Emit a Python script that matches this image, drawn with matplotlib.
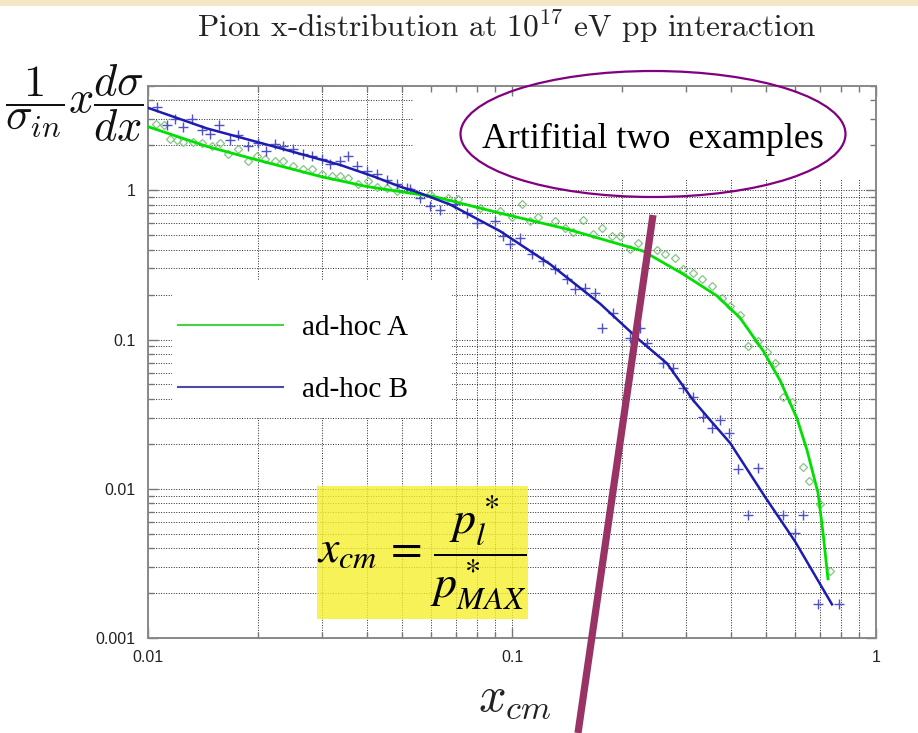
import matplotlib.pyplot as plt
from matplotlib.patches import Ellipse, Rectangle
from matplotlib.lines import Line2D

plt.rcParams['mathtext.fontset'] = 'cm'

# ad-hoc A: fitted curve and generated points
curve_a_x = [0.0100, 0.0145, 0.0199, 0.0297, 0.0399, 0.0558, 0.0607, 0.0927, 0.1416,
             0.2290, 0.2950, 0.3658, 0.4230, 0.4893, 0.5448, 0.6067, 0.6461, 0.6929,
             0.7151, 0.7380]
curve_a_y = [2.67, 1.97, 1.60, 1.24, 1.06, 0.936, 0.912, 0.703, 0.550,
             0.392, 0.275, 0.196, 0.140, 0.0843, 0.0534, 0.0296, 0.0182, 0.00939,
             0.00510, 0.00249]
pts_a_x = [0.0105, 0.0111, 0.0115, 0.0120, 0.0125, 0.0133, 0.0141, 0.0150, 0.0158, 0.0166,
           0.0177, 0.0188, 0.0199, 0.0210, 0.0223, 0.0235, 0.0250, 0.0267, 0.0282, 0.0301,
           0.0320, 0.0337, 0.0354, 0.0378, 0.0402, 0.0426, 0.0454, 0.0483,
           0.0595, 0.0667, 0.0710, 0.0817, 0.0927, 0.100, 0.1065, 0.1121, 0.1179, 0.1313,
           0.1398, 0.1471, 0.1567, 0.1669, 0.1767, 0.1883, 0.1981, 0.2110, 0.2220,
           0.250, 0.263, 0.280, 0.295, 0.314, 0.333, 0.354, 0.378, 0.397, 0.423,
           0.445, 0.474, 0.502, 0.528, 0.555, 0.588, 0.630, 0.654, 0.702, 0.747]
pts_a_y = [2.80, 2.75, 2.22, 2.19, 2.12, 2.12, 2.06, 1.97, 2.06, 1.74,
           1.88, 1.56, 1.69, 1.61, 1.56, 1.56, 1.45, 1.40, 1.38, 1.28,
           1.24, 1.24, 1.20, 1.11, 1.15, 1.06, 1.03, 0.985,
           0.94, 0.884, 0.871, 0.759, 0.724, 0.661, 0.807, 0.621, 0.661, 0.621,
           0.558, 0.525, 0.631, 0.509, 0.558, 0.494, 0.494, 0.404, 0.443,
           0.398, 0.374, 0.352, 0.297, 0.280, 0.255, 0.229, 0.191, 0.168, 0.145,
           0.0912, 0.0985, 0.0819, 0.0692, 0.0411, 0.0380, 0.0140, 0.0113, 0.00794, 0.00280]

# ad-hoc B: fitted curve and generated points
curve_b_x = [0.0100, 0.0145, 0.0221, 0.0337, 0.0416, 0.0492, 0.0558, 0.0676, 0.0927,
             0.1272, 0.1745, 0.2247, 0.2666, 0.3143, 0.3500, 0.3972, 0.4955, 0.5992,
             0.7570]
curve_b_y = [3.57, 2.60, 1.97, 1.48, 1.24, 1.06, 0.959, 0.803, 0.533,
             0.320, 0.174, 0.0985, 0.0692, 0.0393, 0.0289, 0.0203, 0.00883, 0.00444,
             0.00168]
pts_b_x = [0.0106, 0.0113, 0.0119, 0.0125, 0.0132, 0.0141, 0.0148, 0.0157, 0.0168, 0.0177,
           0.0188, 0.0200, 0.0211, 0.0223, 0.0235, 0.0250, 0.0267, 0.0282, 0.0301, 0.0316,
           0.0337, 0.0354, 0.0375, 0.0400, 0.0426, 0.0454, 0.0483, 0.0515,
           0.0525, 0.0559, 0.0595, 0.0634, 0.0697, 0.0752, 0.0801, 0.0898, 0.0945, 0.0987,
           0.1052, 0.1135, 0.1217, 0.1313, 0.1416, 0.1490, 0.1587, 0.1690, 0.1767, 0.1895,
           0.2110, 0.2247, 0.2349, 0.2599, 0.2769, 0.2950, 0.3143, 0.3347, 0.3544, 0.3728,
           0.3947, 0.4178, 0.4450, 0.4741, 0.5553, 0.5992, 0.6301, 0.6929, 0.7913]
pts_b_y = [3.63, 2.75, 3.02, 2.67, 3.02, 2.55, 2.40, 2.75, 2.19, 2.36,
           1.97, 2.06, 1.82, 2.03, 1.97, 1.88, 1.76, 1.69, 1.61, 1.51,
           1.56, 1.69, 1.45, 1.34, 1.28, 1.18, 1.10, 1.03,
           1.015, 0.884, 0.782, 0.736, 0.807, 0.703, 0.603, 0.621, 0.494, 0.437,
           0.479, 0.374, 0.336, 0.297, 0.255, 0.219, 0.222, 0.206, 0.120, 0.151,
           0.103, 0.120, 0.0955, 0.0692, 0.0641, 0.0471, 0.0411, 0.0302, 0.0255, 0.0288,
           0.0236, 0.0136, 0.00671, 0.0138, 0.00671, 0.00509, 0.00671, 0.00169, 0.00169]

x_ticks = [0.01, 0.1, 1]
x_tick_labels = ['0.01', '0.1', '1']
y_ticks = [0.001, 0.01, 0.1, 1]
y_tick_labels = ['0.001', '0.01', '0.1', '1']

W, H = 918, 733
fig = plt.figure(figsize=(W / 100, H / 100), dpi=100)
fig.patch.set_facecolor('white')

# thin cream band along the top edge
fig.add_artist(Rectangle((0, 1 - 6 / H), 1, 6 / H, transform=fig.transFigure,
                         fc='#f5e6c6', ec='none', zorder=0))

pos = [148 / W, 1 - 638 / H, 728 / W, 552 / H]

# grid lives on its own axes underneath so the white blocks can hide it
ax_grid = fig.add_axes(pos, zorder=0)
ax = fig.add_axes(pos, zorder=1)
ax.patch.set_alpha(0)
for a in (ax_grid, ax):
    a.set_xscale('log')
    a.set_yscale('log')
    a.set_xlim(0.01, 1)
    a.set_ylim(0.001, 5)

ax_grid.grid(True, which='both', linestyle=(0, (1, 1.6)), color='#262626', lw=0.7)
ax_grid.tick_params(which='both', length=0, labelbottom=False, labelleft=False)
for s in ax_grid.spines.values():
    s.set_visible(False)

ax.add_patch(Rectangle((0.033, 0.3986), 0.3846, 0.25, transform=ax.transAxes,
                       fc='white', ec='none', zorder=1))
ax.add_patch(Rectangle((0.364, 0.8297), 0.636, 0.1703, transform=ax.transAxes,
                       fc='white', ec='none', zorder=1))

ax.plot(pts_a_x, pts_a_y, ls='none', marker='D', ms=4.5, mfc='none',
        mec='#86c486', mew=0.9, zorder=2.5)
ax.plot(pts_b_x, pts_b_y, ls='none', marker='+', ms=7, mec='#5050c8',
        mew=1.0, zorder=2.5)
line_a, = ax.plot(curve_a_x, curve_a_y, color='#00e000', lw=2.0, zorder=3)
line_b, = ax.plot(curve_b_x, curve_b_y, color='#1c1cb0', lw=1.8, zorder=3)

ax.set_xticks(x_ticks)
ax.set_xticklabels(x_tick_labels)
ax.set_yticks(y_ticks)
ax.set_yticklabels(y_tick_labels)
ax.tick_params(which='both', direction='in', top=True, right=True, colors='#777777',
               labelcolor='#222222', labelsize=11.5, width=1.0)
ax.tick_params(which='major', length=7, pad=9)
ax.tick_params(which='minor', length=4)
for lab in ax.get_xticklabels() + ax.get_yticklabels():
    lab.set_fontfamily('Liberation Sans')
for s in ax.spines.values():
    s.set_color('#888888')
    s.set_linewidth(1.4)

leg = ax.legend([line_a, line_b], ['ad-hoc A', 'ad-hoc B'], loc='upper left',
                bbox_to_anchor=(178 / W, 1 - 315 / H), bbox_transform=fig.transFigure,
                frameon=False, borderpad=0, borderaxespad=0, handlelength=3.6,
                handletextpad=0.65, labelspacing=1.2,
                prop={'family': 'Liberation Serif', 'size': 21})
leg.get_lines()[0].set_color('#44d444')
leg.get_lines()[1].set_color('#4a4aaa')
for ln in leg.get_lines():
    ln.set_linewidth(1.5)

fig.text(507 / W, 1 - 37 / H, 'Pion x-distribution at $10^{17}$ eV pp interaction',
         fontfamily='cmr10', fontsize=22.6, ha='center', va='baseline', color='#222222')
fig.text(74 / W, 1 - 103 / H, r'$\dfrac{1}{\sigma_{in}}x\dfrac{d\sigma}{dx}$',
         fontsize=32, ha='center', va='center', color='#111111')
fig.text(515 / W, 1 - 697 / H, r'$x_{cm}$', fontsize=35, ha='center', va='center',
         color='#222222')

# highlighted definition of x_cm
fig.add_artist(Rectangle((317 / W, 1 - 619 / H), 211 / W, 133 / H, transform=fig.transFigure,
                         fc='#f4ef2e', ec='none', alpha=0.8, zorder=5))
fig.text(422 / W, 1 - 553 / H, r'$x_{cm}\,=\,\dfrac{p_l^*}{p_{MAX}^*}$', math_fontfamily='stix',
         fontsize=33, ha='center', va='center', zorder=6)

fig.add_artist(Ellipse((653 / W, 1 - 134 / H), 385 / W, 126 / H, transform=fig.transFigure,
                       fill=False, ec='#800080', lw=1.6, zorder=5))
fig.text(653 / W, 1 - 139 / H, 'Artifitial two  examples', fontfamily='Liberation Serif',
         fontsize=25.8, ha='center', va='center', zorder=6)

fig.add_artist(Line2D([653 / W, 578 / W], [1 - 215 / H, 0], transform=fig.transFigure,
                      color='#993366', lw=5.2, solid_capstyle='butt', zorder=7))

fig.savefig('out.png', dpi=100)
